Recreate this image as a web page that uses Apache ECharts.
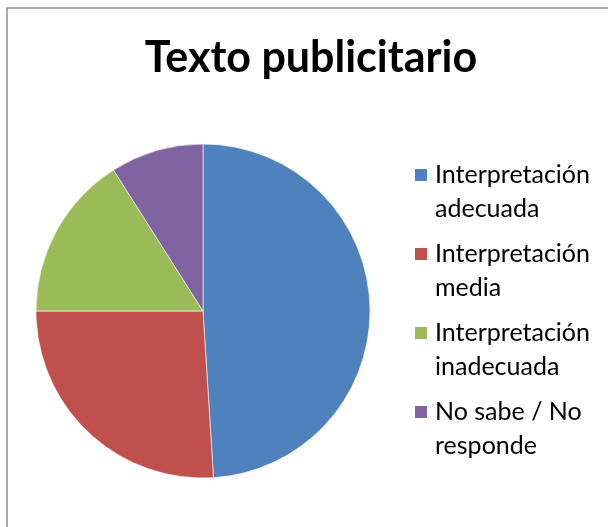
<!DOCTYPE html>
<html>
<head>
<meta charset="utf-8">
<script src="https://cdn.jsdelivr.net/npm/echarts@6/dist/echarts.min.js"></script>
<style>html,body{margin:0;padding:0;background:#fff}#c{width:608px;height:527px}</style>
</head>
<body>
<div id="c"></div>
<script>
var title = 'Texto publicitario';
var categories = ['Interpretación adecuada', 'Interpretación media', 'Interpretación inadecuada', 'No sabe / No responde'];
var legendLabels = ['Interpretación\nadecuada', 'Interpretación\nmedia', 'Interpretación\ninadecuada', 'No sabe / No\nresponde'];
var values = [49, 26, 16, 9];
var colors = ['#4F81BD', '#C0504D', '#9BBB59', '#8064A2'];

var chart = echarts.init(document.getElementById('c'));
var iconPath = 'path://M0,0h0.05v0.05h-0.05z M0,10h14v14h-14z M0,67.95h0.05v0.05h-0.05z';
chart.setOption({
  animation: false,
  color: colors,
  graphic: [{
    type: 'rect', silent: true,
    shape: {x: 7, y: 8, width: 700, height: 700},
    style: {fill: 'none', stroke: '#8a8a8a', lineWidth: 1.5}
  }],
  title: {
    text: title, left: 311, top: 37, textAlign: 'center', padding: 0,
    textStyle: {fontFamily: 'Lato', fontWeight: 'bold', fontSize: 43, color: '#000'}
  },
  legend: {
    orient: 'vertical', left: 413, top: 157, padding: 0,
    itemWidth: 14, itemHeight: 68, itemGap: 9,
    icon: iconPath,
    data: categories,
    formatter: function (name) { return legendLabels[categories.indexOf(name)]; },
    textStyle: {fontFamily: 'Lato', fontSize: 25, lineHeight: 34, color: '#000', padding: [0, 0, 0, 2]}
  },
  series: [{
    type: 'pie',
    center: [203, 311],
    radius: 167,
    startAngle: 90,
    clockwise: true,
    label: {show: false},
    labelLine: {show: false},
    itemStyle: {borderColor: '#ffffff', borderWidth: 0.6},
    emphasis: {disabled: true},
    data: categories.map(function (c, i) { return {name: c, value: values[i]}; })
  }]
});
</script>
</body>
</html>
